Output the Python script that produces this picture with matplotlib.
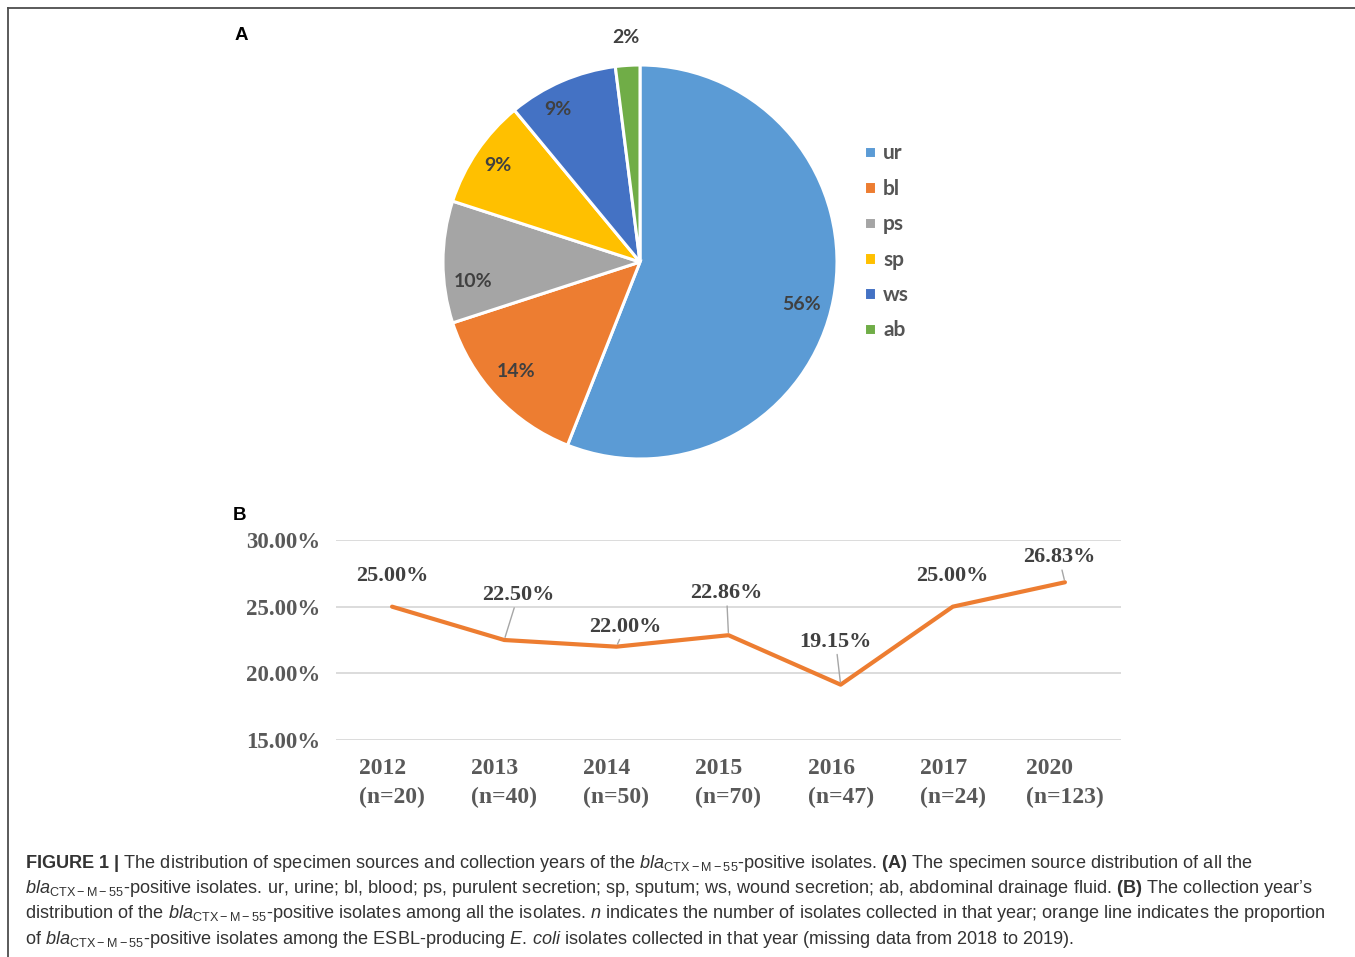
import matplotlib
matplotlib.use("Agg")
import matplotlib.pyplot as plt
from matplotlib.lines import Line2D
from matplotlib.ticker import FuncFormatter
import numpy as np

# Specimen sources (panel A)
sources = ["ur", "bl", "ps", "sp", "ws", "ab"]
source_pct = [56, 14, 10, 9, 9, 2]
source_colors = ["#5B9BD5", "#ED7D31", "#A5A5A5", "#FFC000", "#4472C4", "#70AD47"]

# Collection years (panel B)
years = ["2012", "2013", "2014", "2015", "2016", "2017", "2020"]
n_isolates = [20, 40, 50, 70, 47, 24, 123]
positive_rate = [25.00, 22.50, 22.00, 22.86, 19.15, 25.00, 26.83]
y_ticks = [15, 20, 25, 30]

W, H = 1355, 957
plt.rcParams["mathtext.fontset"] = "custom"
plt.rcParams["mathtext.rm"] = "Liberation Sans"
plt.rcParams["mathtext.it"] = "Liberation Sans:italic"
plt.rcParams["mathtext.bf"] = "Liberation Sans:bold"

fig = plt.figure(figsize=(W / 100, H / 100), dpi=100)
fig.patch.set_facecolor("white")


def px_box(left, top, right, bottom):
    return [left / W, 1 - bottom / H, (right - left) / W, (bottom - top) / H]


# Frame along the top and left edges
fig.add_artist(Line2D([8 / W, 8 / W], [0, 1 - 8 / H], transform=fig.transFigure,
                      color="#4d4d4d", lw=1.3))
fig.add_artist(Line2D([8 / W, 1], [1 - 8 / H, 1 - 8 / H], transform=fig.transFigure,
                      color="#4d4d4d", lw=1.3))

# Panel letters
fig.text(241 / W, 1 - 35 / H, "A", ha="center", va="center", fontsize=13.5,
         fontweight="bold", family="Liberation Sans", color="black")
fig.text(239 / W, 1 - 516 / H, "B", ha="center", va="center", fontsize=13.5,
         fontweight="bold", family="Liberation Sans", color="black")

# ---- Panel A: pie ----
cx, cy, R = 640, 262, 197
ax_pie = fig.add_axes(px_box(cx - R, cy - R, cx + R, cy + R))
wedges, _ = ax_pie.pie(source_pct, colors=source_colors, startangle=90, counterclock=False,
                       radius=1.0, wedgeprops=dict(edgecolor="white", linewidth=2.2))
ax_pie.set_xlim(-1, 1)
ax_pie.set_ylim(-1, 1)
ax_pie.set_aspect("equal")
ax_pie.axis("off")

# percentage labels: radial distance and angular shift from the wedge middle
label_dist = [0.85, 0.84, 0.855, 0.87, 0.88, 1.14]
label_shift = [-4.0, -1.6, 6.8, 0.0, 4.8, 0.0]
cum = 0.0
for val, d, sh in zip(source_pct, label_dist, label_shift):
    mid = 90 - (cum + val / 2) / 100 * 360 + sh
    cum += val
    ax_pie.text(d * np.cos(np.radians(mid)), d * np.sin(np.radians(mid)), f"{val}%",
                ha="center", va="center", fontsize=14, fontweight="bold",
                family="Lato", color="#404040", clip_on=False)

leg = ax_pie.legend(wedges, sources, loc="upper left",
                    bbox_to_anchor=(854 / W, 1 - 133 / H), bbox_transform=fig.transFigure,
                    frameon=False, handlelength=0.55, handleheight=0.55, handletextpad=0.35,
                    labelspacing=0.74, borderpad=0,
                    prop=dict(family="Lato", weight="bold", size=15))
for t in leg.get_texts():
    t.set_color("#555555")

# ---- Panel B: line chart ----
ax = fig.add_axes(px_box(336, 540, 1121, 740))
x = np.arange(len(years))
ax.plot(x, positive_rate, color="#ED7D31", lw=3.0, solid_joinstyle="round",
        solid_capstyle="round", zorder=3)
ax.set_xlim(-0.5, len(years) - 0.5)
ax.set_ylim(y_ticks[0], y_ticks[-1])
ax.set_yticks(y_ticks)
ax.yaxis.set_major_formatter(FuncFormatter(lambda v, p: f"{v:.2f}%"))
ax.grid(axis="y", color="#d9d9d9", lw=1.3)
ax.set_axisbelow(True)
for s in ax.spines.values():
    s.set_visible(False)
ax.tick_params(axis="both", length=0)
ax.tick_params(axis="y", pad=11)
ax.tick_params(axis="x", pad=13)
ax.set_xticks(x)
ax.set_xticklabels([f"{y}\n(n={n})" for y, n in zip(years, n_isolates)],
                   multialignment="left", linespacing=1.5)
for lab in ax.get_yticklabels():
    lab.set_fontsize(16.5)
for lab in ax.get_xticklabels():
    lab.set_fontsize(17)
for lab in ax.get_yticklabels() + ax.get_xticklabels():
    lab.set_family("Liberation Serif")
    lab.set_fontweight("bold")
    lab.set_color("#595959")

# label offsets (pixels) and whether a leader line is drawn
offsets = [(0, 31), (14, 45), (9, 20), (-2, 42), (-5, 43), (0, 31), (-6, 25)]
leaders = [False, True, True, True, True, False, True]
for xi, v, (dx, dy), lead in zip(x, positive_rate, offsets, leaders):
    arrow = dict(arrowstyle="-", color="#a6a6a6", lw=1.0, shrinkA=0, shrinkB=2) if lead else None
    ax.annotate(f"{v:.2f}%", xy=(xi, v), xytext=(dx, dy), textcoords="offset pixels",
                ha="center", va="center", fontsize=16, fontweight="bold",
                family="Liberation Serif", color="#404040", arrowprops=arrow,
                annotation_clip=False)

# ---- Caption ----
BLA = r"$\mathit{bla}_{\mathrm{CTX-M-55}}$"
caption = [
    r"$\mathbf{FIGURE\ 1\ |}$ The distribution of specimen sources and collection years of the "
    + BLA + r"-positive isolates. $\mathbf{(A)}$ The specimen source distribution of all the",
    BLA + r"-positive isolates. ur, urine; bl, blood; ps, purulent secretion; sp, sputum; "
    r"ws, wound secretion; ab, abdominal drainage fluid. $\mathbf{(B)}$ The collection year’s",
    r"distribution of the " + BLA + r"-positive isolates among all the isolates. $\mathit{n}$ "
    r"indicates the number of isolates collected in that year; orange line indicates the proportion",
    r"of " + BLA + r"-positive isolates among the ESBL-producing $\mathit{E.\,coli}$ "
    r"isolates collected in that year (missing data from 2018 to 2019).",
]
for i, line in enumerate(caption):
    fig.text(25 / W, 1 - (863 + i * 25.5) / H, line, ha="left", va="center",
             fontsize=13.05, family="Liberation Sans", color="#333333")

fig.savefig("out.png", dpi=100, facecolor="white")
